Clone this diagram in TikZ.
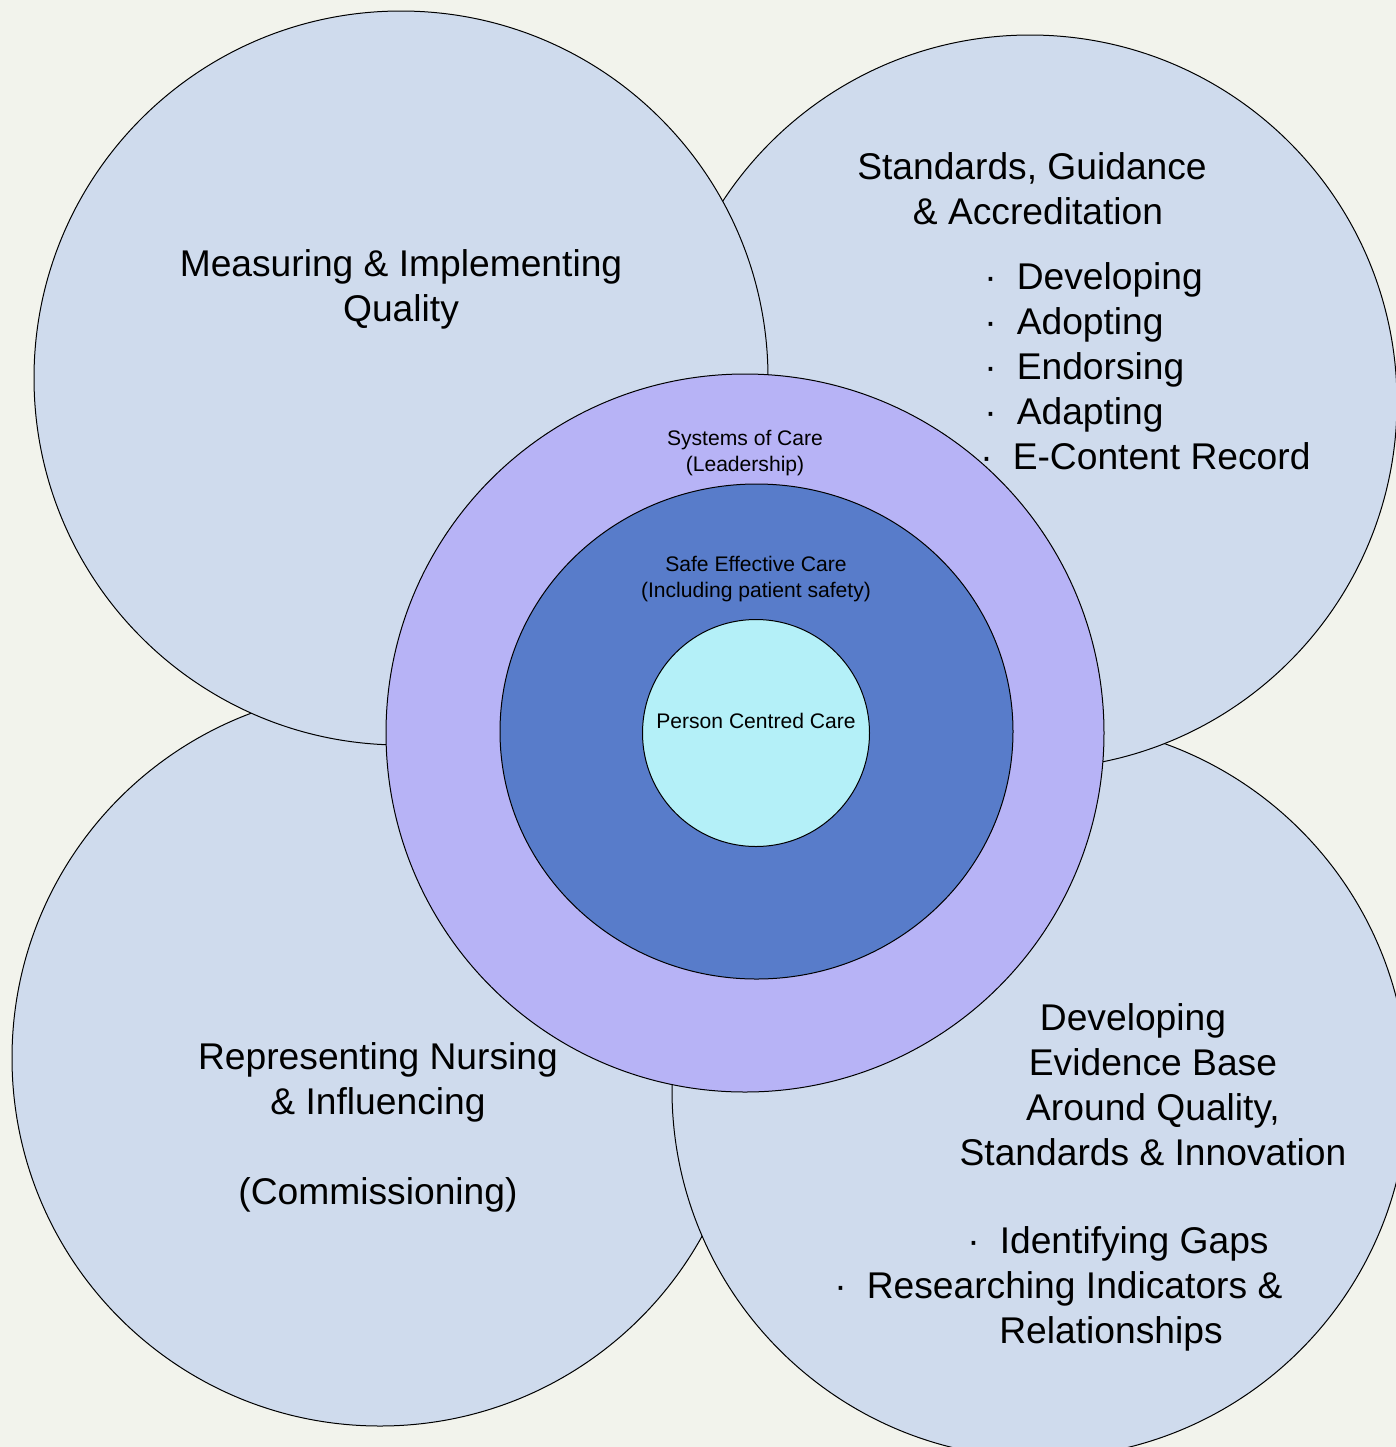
\documentclass[tikz,border=0pt]{standalone}
\usepackage{fontspec}
\setmainfont{Liberation Sans}
\usepackage{tikz}
\definecolor{paper}{RGB}{242,243,236}
\definecolor{petal}{RGB}{207,219,237}
\definecolor{leadlilac}{RGB}{183,179,246}
\definecolor{safeblue}{RGB}{88,124,202}
\definecolor{personcyan}{RGB}{180,240,248}

\begin{document}
\begin{tikzpicture}[x=0.5pt, y=-0.5pt,
	petaldisc/.style={draw=black, line width=0.5pt, fill=petal},
	ringdisc/.style={draw=black, line width=0.5pt},
	bigtext/.style={font=\fontsize{18.6}{22.5}\selectfont, align=center, inner sep=0pt},
	smalltext/.style={font=\fontsize{10.55}{13}\selectfont, align=center, inner sep=0pt}]
		%%%%% START %%%%%
		
		\useasboundingbox (0, 0) rectangle (1396, 1447);
		\fill[paper] (0, 0) rectangle (1396, 1447);
		
		\draw[petaldisc] (380, 1058) circle (368);
		\draw[petaldisc] (1040, 1090) circle (368);
		\draw[petaldisc] (1030, 402) circle (367);
		\draw[petaldisc] (401, 378) circle (367);
		
		\draw[ringdisc, fill=leadlilac] (745, 733) circle (359);
		\draw[ringdisc, fill=safeblue] (756.5, 731.5) ellipse (256.5 and 247.5);
		\draw[ringdisc, fill=personcyan] (756, 733) circle (113.5);
		
		\node[bigtext] (measuring) at (401, 289) {Measuring \& Implementing\\Quality};
		
		\node[bigtext] (standards) at (1032, 189) {Standards, Guidance\\\hspace*{6pt}\& Accreditation};
		\node[bigtext, align=left, anchor=west] (standardslist) at (984, 366)
			{·\hspace{10pt}Developing\\·\hspace{10pt}Adopting\\·\hspace{10pt}Endorsing\\·\hspace{10pt}Adapting\\\hspace*{-2pt}·\hspace{10pt}E-Content Record};
		
		\node[bigtext] (representing) at (378, 1127.5) {Representing Nursing\\\& Influencing\\[22.5pt](Commissioning)};
		
		\node[bigtext] (evidence) at (1153, 1085) {Developing\hspace*{20pt}\\Evidence Base\\Around Quality,\\Standards \& Innovation};
		\node[bigtext, anchor=west] (gaps) at (967, 1244) {·\hspace{10pt}Identifying Gaps};
		\node[bigtext, anchor=west] (researching) at (834, 1289) {·\hspace{10pt}Researching Indicators \&};
		\node[bigtext] (relationships) at (1111, 1334) {Relationships};
		
		\node[smalltext] (systems) at (745, 453) {Systems of Care\\(Leadership)};
		\node[smalltext] (safe) at (756, 579) {Safe Effective Care\\(Including patient safety)};
		\node[smalltext] (person) at (756, 721) {Person Centred Care};
		
		%%%%% END %%%%%
\end{tikzpicture}
\end{document}
